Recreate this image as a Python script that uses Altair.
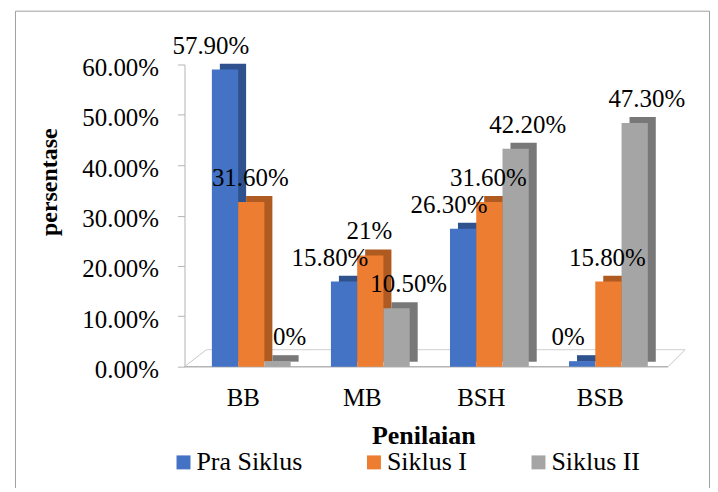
import altair as alt
import pandas as pd

# ---- data ----
categories = ["BB", "MB", "BSH", "BSB"]
series = ["Pra Siklus", "Siklus I", "Siklus II"]
pra_siklus = [0.579, 0.158, 0.263, 0.0]
siklus_1 = [0.316, 0.21, 0.316, 0.158]
siklus_2 = [0.0, 0.105, 0.422, 0.473]
labels_pra = ["57.90%", "15.80%", "26.30%", "0%"]
labels_s1 = ["31.60%", "21%", "31.60%", "15.80%"]
labels_s2 = ["0%", "10.50%", "42.20%", "47.30%"]
y_ticks = [0, 0.1, 0.2, 0.3, 0.4, 0.5, 0.6]

front_colors = ["#4472C4", "#ED7D31", "#A5A5A5"]
side_colors = ["#2F528F", "#AE5A21", "#787878"]

rows = []
for s, vals, labs in zip(series, [pra_siklus, siklus_1, siklus_2],
                         [labels_pra, labels_s1, labels_s2]):
    for c, v, l in zip(categories, vals, labs):
        rows.append({"kategori": c, "series": s, "nilai": v, "label": l})
df = pd.DataFrame(rows)
one = pd.DataFrame({"k": [0]})

W, H = 492, 303
SERIF = "Liberation Serif, Times New Roman, serif"
GRAY = "#b4b4b4"

x_axis = alt.Axis(
    title="Penilaian", domain=False, ticks=False, tickSize=0,
    labelAngle=0, labelFont=SERIF, labelFontSize=25, labelColor="black",
    labelBaseline="middle", labelPadding=31, labelOffset=-8,
    titleFont=SERIF, titleFontSize=26, titleFontWeight="bold",
    titleColor="black", titleX=239.5, titleY=77,
    titleAlign="center", titleBaseline="alphabetic",
)
y_axis = alt.Axis(
    title="persentase", values=y_ticks, format=".2%", grid=False,
    domainColor=GRAY, tickColor=GRAY, tickSize=7,
    labelFont=SERIF, labelFontSize=25, labelColor="black",
    labelBaseline="middle", labelPadding=19, labelOffset=3,
    titleFont=SERIF, titleFontSize=24, titleFontWeight="bold",
    titleColor="black", titleX=-128, titleY=117.5, titleAngle=270,
    titleAlign="center", titleBaseline="alphabetic",
)
y_scale = alt.Scale(domain=[0, 0.6], nice=False, zero=True)

x_enc = alt.X("kategori:N", sort=categories,
              scale=alt.Scale(paddingInner=0.339, paddingOuter=0.23), axis=x_axis)
y_enc = alt.Y("nilai:Q", scale=y_scale, axis=y_axis, stack=None)
y0 = alt.datum(0, scale=y_scale, axis=y_axis)

# outer frame
frame = alt.Chart(one).mark_rect(filled=False, stroke="#a0a0a0", strokeWidth=1).encode(
    x=alt.value(-169.5), x2=alt.value(526.5), y=alt.value(-53.5), y2=alt.value(460)
)

# floor of the 3-D plot
floor_front = alt.Chart(one).mark_rule(color=GRAY, strokeWidth=1.5).encode(
    x=alt.value(0), x2=alt.value(485), y=y0
)
floor_back = alt.Chart(one).mark_rule(color="#d0d0d0", strokeWidth=1, yOffset=-17).encode(
    x=alt.value(22), x2=alt.value(502), y=y0
)
floor_left = alt.Chart(one).mark_rule(color="#c8c8c8", strokeWidth=1, y2Offset=-17).encode(
    x=alt.value(0), x2=alt.value(22), y=y0, y2=alt.datum(0)
)
floor_right = alt.Chart(one).mark_rule(color="#c8c8c8", strokeWidth=1, y2Offset=-17).encode(
    x=alt.value(485), x2=alt.value(502), y=y0, y2=alt.datum(0)
)

# side/top faces: same bars, offset to the back-right via their own xOffset range
back = alt.Chart(df).mark_bar(yOffset=-11.5, y2Offset=-5).encode(
    x=x_enc,
    xOffset=alt.XOffset("series:N", sort=series,
                        scale=alt.Scale(range=[8, 87], paddingInner=0, paddingOuter=0)),
    y=y_enc,
    y2=alt.datum(0),
    color=alt.Color("series:N", sort=series,
                    scale=alt.Scale(domain=series, range=side_colors), legend=None),
)

front = alt.Chart(df).mark_bar(yOffset=-5.5, y2Offset=-5).encode(
    x=x_enc,
    xOffset=alt.XOffset("series:N", sort=series,
                        scale=alt.Scale(range=[0, 79], paddingInner=0, paddingOuter=0)),
    y=y_enc,
    color=alt.Color(
        "series:N", sort=series,
        scale=alt.Scale(domain=series, range=front_colors),
        legend=alt.Legend(
            title=None, orient="none", direction="horizontal",
            legendX=-14, legendY=386, padding=0,
            symbolType="square", symbolSize=196, symbolStrokeWidth=0,
            labelFont=SERIF, labelFontSize=26, labelColor="black",
            labelOffset=0, columnPadding=58,
        ),
    ),
)

text = alt.Chart(df).mark_text(
    font=SERIF, fontSize=25, color="black", baseline="middle", align="center",
    dy=-29.5, dx=-1,
).encode(
    x=x_enc,
    xOffset=alt.XOffset("series:N", sort=series,
                        scale=alt.Scale(range=[0, 79], paddingInner=0, paddingOuter=0)),
    y=y_enc, text="label:N",
)

chart = alt.layer(
    frame, floor_front, floor_back, floor_left, floor_right, back, front, text
).resolve_scale(color="independent", xOffset="independent").properties(
    width=W, height=H,
    autosize=alt.AutoSizeParams(type="none"),
    padding={"left": 177, "top": 56, "right": 35, "bottom": 121},
    background="white",
).configure_view(strokeWidth=0)

chart.save("out.html", embed_options={"renderer": "svg", "actions": False})
